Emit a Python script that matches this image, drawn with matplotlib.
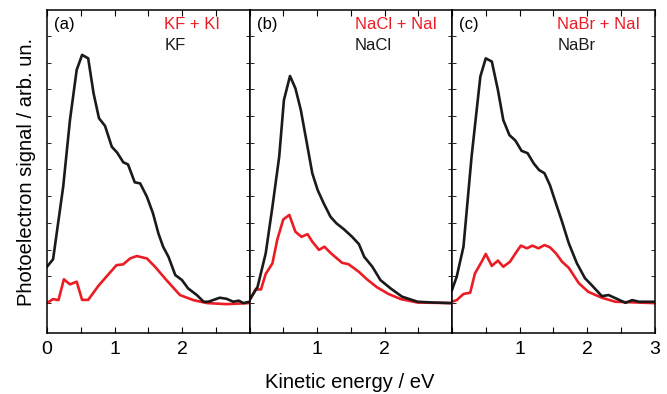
import matplotlib
matplotlib.use("Agg")
import matplotlib.pyplot as plt
import numpy as np

plt.rcParams['font.family'] = ['Liberation Sans', 'DejaVu Sans']

# panel (a): KF / KF + KI
a_black_x = [0.0, 0.09, 0.24, 0.34, 0.44, 0.52, 0.61, 0.69, 0.77, 0.86, 0.96, 1.04, 1.13, 1.20, 1.30, 1.38,
             1.48, 1.57, 1.65, 1.72, 1.80, 1.90, 2.0, 2.09, 2.22, 2.32, 2.39, 2.56, 2.66, 2.76, 2.84, 2.91, 3.0]
a_black_y = [1.36, 1.64, 4.36, 6.85, 8.73, 9.29, 9.16, 7.85, 6.92, 6.63, 5.85, 5.63, 5.27, 5.19, 4.52, 4.48,
             3.98, 3.36, 2.61, 2.11, 1.73, 1.05, 0.86, 0.55, 0.30, 0.05, 0.05, 0.20, 0.16, 0.05, 0.09, 0.0, 0.05]
a_red_x = [0.0, 0.09, 0.17, 0.25, 0.34, 0.44, 0.52, 0.61, 0.76, 0.88, 1.03, 1.13, 1.23, 1.33, 1.48, 1.60,
           1.77, 1.97, 2.17, 2.37, 2.66, 3.0]
a_red_y = [0.0, 0.15, 0.11, 0.89, 0.70, 0.80, 0.12, 0.12, 0.64, 0.99, 1.42, 1.45, 1.67, 1.76, 1.67, 1.36,
           0.86, 0.30, 0.11, 0.0, -0.04, 0.0]

# panel (b): NaCl / NaCl + NaI
b_black_x = [0.0, 0.12, 0.24, 0.34, 0.44, 0.51, 0.60, 0.68, 0.76, 0.85, 0.93, 1.01, 1.10, 1.20, 1.29, 1.40,
             1.52, 1.62, 1.70, 1.82, 1.94, 2.09, 2.26, 2.49, 2.73, 2.98]
b_black_y = [0.11, 0.61, 1.86, 3.61, 5.48, 7.6, 8.50, 8.04, 7.23, 5.98, 4.86, 4.23, 3.73, 3.23, 2.98, 2.76,
             2.48, 2.21, 1.73, 1.36, 0.86, 0.55, 0.24, 0.05, 0.02, 0.0]
b_red_x = [0.0, 0.09, 0.17, 0.24, 0.34, 0.41, 0.50, 0.59, 0.68, 0.77, 0.86, 0.93, 1.03, 1.11, 1.20, 1.37,
           1.47, 1.62, 1.74, 1.89, 2.06, 2.24, 2.49, 2.98]
b_red_y = [0.11, 0.51, 0.51, 1.09, 1.49, 2.36, 3.13, 3.30, 2.67, 2.48, 2.58, 2.30, 1.99, 2.11, 1.88, 1.51,
           1.45, 1.17, 0.89, 0.59, 0.34, 0.15, 0.02, 0.0]

# panel (c): NaBr / NaBr + NaI
c_black_x = [0.0, 0.07, 0.17, 0.29, 0.42, 0.50, 0.59, 0.68, 0.76, 0.85, 0.94, 1.03, 1.12, 1.21, 1.29, 1.37,
             1.45, 1.54, 1.63, 1.73, 1.85, 1.97, 2.07, 2.22, 2.32, 2.45, 2.57, 2.67, 2.77, 2.99]
c_black_y = [0.49, 0.99, 2.11, 5.48, 8.48, 9.16, 9.04, 7.98, 6.85, 6.29, 6.08, 5.70, 5.61, 5.23, 4.98, 4.86,
             4.42, 3.73, 3.05, 2.24, 1.49, 0.93, 0.67, 0.26, 0.30, 0.15, 0.01, 0.11, 0.05, 0.05]
c_red_x = [0.0, 0.07, 0.17, 0.27, 0.34, 0.44, 0.50, 0.59, 0.68, 0.76, 0.86, 0.94, 1.02, 1.11, 1.19, 1.28,
           1.37, 1.45, 1.54, 1.63, 1.73, 1.88, 2.02, 2.22, 2.42, 2.99]
c_red_y = [0.05, 0.11, 0.34, 0.39, 1.11, 1.55, 1.84, 1.39, 1.59, 1.36, 1.55, 1.86, 2.15, 2.05, 2.15, 2.05,
           2.17, 2.09, 1.86, 1.55, 1.32, 0.74, 0.42, 0.20, 0.05, 0.0]

panel_tags = ['(a)', '(b)', '(c)']
red_labels = ['KF + KI', 'NaCl + NaI', 'NaBr + NaI']
black_labels = ['KF', 'NaCl', 'NaBr']
tick_labels = [['0', '1', '2', ''], ['', '1', '2', ''], ['', '1', '2', '3']]

black = [(a_black_x, a_black_y), (b_black_x, b_black_y), (c_black_x, c_black_y)]
red = [(a_red_x, a_red_y), (b_red_x, b_red_y), (c_red_x, c_red_y)]

RED = '#ec1c24'
BLK = '#1a1a1a'

fig = plt.figure(figsize=(6.67, 3.94), dpi=100)
left = 47 / 667
w = 202.5 / 667
bottom = 1 - 333 / 394
h = (333 - 10) / 394

for i in range(3):
    ax = fig.add_axes([left + i * w, bottom, w, h])
    ax.plot(red[i][0], red[i][1], color=RED, lw=1.9)
    ax.plot(black[i][0], black[i][1], color=BLK, lw=1.9)
    ax.set_xlim(0, 3)
    ax.set_ylim(-1.12, 10.97)
    ax.set_xticks(np.arange(0, 3.01, 0.5))
    labs = []
    for t in np.arange(0, 3.01, 0.5):
        labs.append(tick_labels[i][int(t)] if t == int(t) else '')
    ax.set_xticklabels(labs, fontsize=14)
    ax.set_yticks(np.arange(0, 11, 1))
    ax.set_yticklabels([])
    ax.tick_params(axis='x', direction='in', top=True, length=4, width=0.8, pad=6)
    ax.tick_params(axis='y', direction='in', right=True, length=3, width=0.6)
    for s in ax.spines.values():
        s.set_linewidth(1.1)
    ax.text(0.035, 0.955, panel_tags[i], transform=ax.transAxes, fontsize=12, va='center', ha='left')
    ax.text(0.58 if i == 0 else 0.52, 0.955, red_labels[i], transform=ax.transAxes, fontsize=12,
            color=RED, va='center', ha='left')
    ax.text(0.58 if i == 0 else 0.52, 0.89, black_labels[i], transform=ax.transAxes, fontsize=12,
            color=BLK, va='center', ha='left')

fig.text(0.525, 0.028, 'Kinetic energy / eV', ha='center', va='center', fontsize=14.5)
fig.text(0.04, bottom + h / 2, 'Photoelectron signal / arb. un.', rotation=90, ha='center', va='center',
         fontsize=14.5)

fig.savefig('out.png', dpi=100)
